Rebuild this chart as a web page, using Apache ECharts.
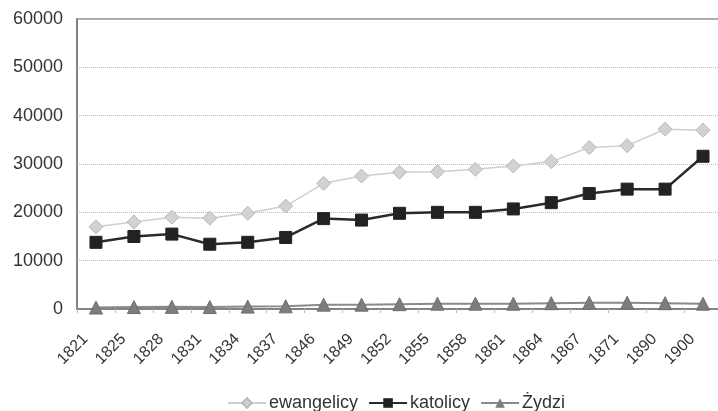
<!DOCTYPE html>
<html><head><meta charset="utf-8">
<script src="https://cdn.jsdelivr.net/npm/echarts@6/dist/echarts.min.js"></script>
<style>html,body{margin:0;padding:0;background:#fff}#c{width:718px;height:411px}</style>
</head><body><div id="c"></div>
<script>
var years = ['1821','1825','1828','1831','1834','1837','1846','1849','1852','1855','1858','1861','1864','1867','1871','1890','1900'];
var ewangelicy = [17000,18000,19000,18800,19800,21300,26000,27500,28300,28400,28900,29600,30500,33400,33800,37200,37000];
var katolicy = [13800,15000,15500,13400,13800,14800,18700,18400,19800,20000,20000,20700,22000,23900,24800,24800,31600];
var zydzi = [300,400,450,400,500,550,900,900,1000,1100,1100,1100,1200,1300,1300,1200,1100];
var yTicks = [0,10000,20000,30000,40000,50000,60000];

var chart = echarts.init(document.getElementById('c'), null, {renderer:'canvas'});
chart.setOption({
  animation:false,
  backgroundColor:'#fff',
  grid:{left:77, width:645, top:19, height:290, containLabel:false, outerBoundsMode:'none',
        show:true, borderColor:'#8a8a8a', borderWidth:1.5, backgroundColor:'transparent'},
  legend:{
    top:389, left:222, itemWidth:38, itemHeight:12, itemGap:10,
    textStyle:{fontFamily:'Liberation Sans, Arial', fontSize:18, color:'#333', padding:[0,0,0,-2]},
    data:['ewangelicy','katolicy','Żydzi']
  },
  xAxis:{
    type:'category', data:years, boundaryGap:true,
    axisLine:{lineStyle:{color:'#777', width:1.5}},
    axisTick:{show:true, length:4, lineStyle:{color:'#bbb'}},
    axisLabel:{rotate:45, fontFamily:'Liberation Sans, Arial', fontSize:16, color:'#333', margin:17,
      padding:[0,15,0,0], interval:0, hideOverlap:false},
    splitLine:{show:false}
  },
  yAxis:{
    type:'value', min:0, max:60000, interval:10000,
    axisLine:{show:true, lineStyle:{color:'#777', width:1.5}},
    axisTick:{show:false},
    axisLabel:{fontFamily:'Liberation Sans, Arial', fontSize:18, color:'#333', margin:14,
      formatter:function(v){return yTicks.indexOf(v)>=0?String(v):'';}},
    splitLine:{show:true, lineStyle:{color:'#bbb', type:'dotted', width:1}}
  },
  series:[
    {name:'ewangelicy', type:'line', data:ewangelicy, symbol:'diamond', symbolSize:14,
     lineStyle:{color:'#cfcfcf', width:1.5},
     itemStyle:{color:'#d2d2d2', borderColor:'#b8b8b8', borderWidth:1}},
    {name:'katolicy', type:'line', data:katolicy, symbol:'rect', symbolSize:12,
     lineStyle:{color:'#2a2a2a', width:2.5},
     itemStyle:{color:'#222', borderColor:'#222'}},
    {name:'Żydzi', type:'line', data:zydzi, symbol:'triangle', symbolSize:13,
     lineStyle:{color:'#8a8a8a', width:2},
     itemStyle:{color:'#7d7d7d', borderColor:'#6d6d6d'}}
  ]
});
</script></body></html>
